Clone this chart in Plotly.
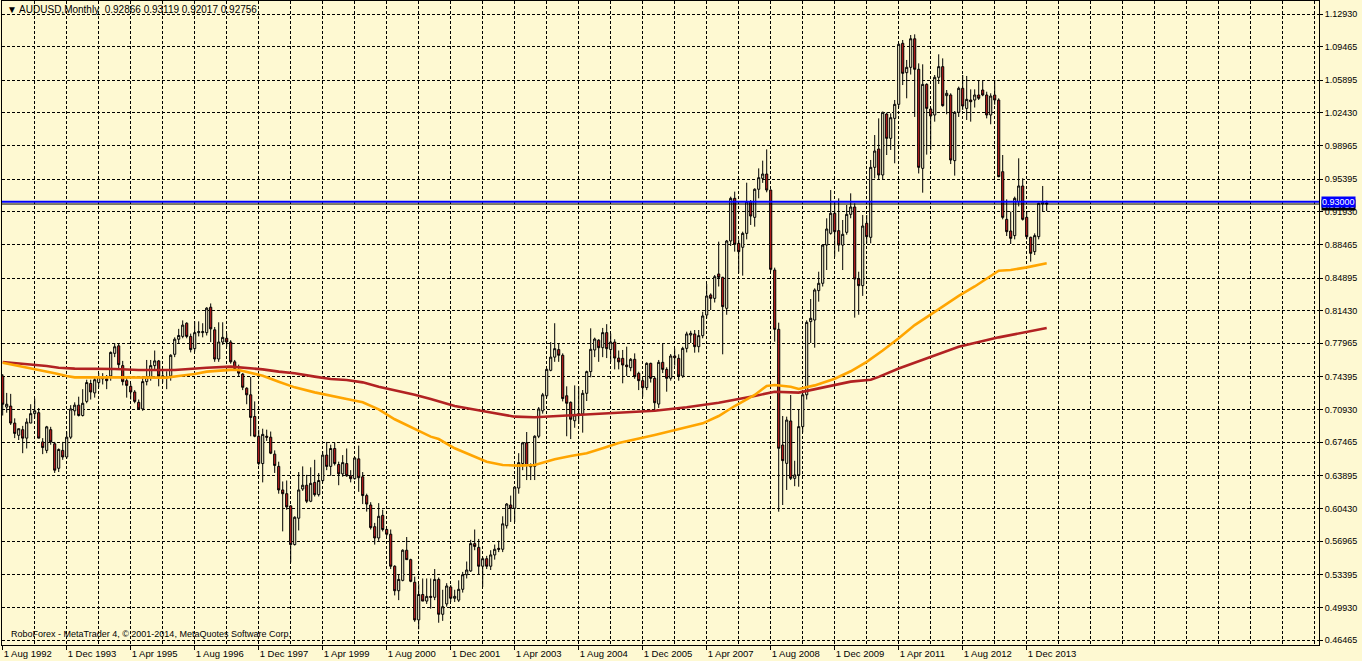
import plotly.graph_objects as go

# ---------------- data ----------------
opens = [
 .745,.712,.713,.695,.682,.688,.679,.695,.705,.706,.675,.666,.688,.673,.647,.666,.659,.680,.708,.714,
 .703,.718,.737,.727,.738,.742,.742,.745,.769,.777,.756,.740,.734,.728,.717,.710,.739,.743,.756,.761,
 .744,.744,.745,.768,.784,.787,.801,.787,.774,.791,.791,.791,.818,.794,.763,.781,.785,.781,.760,.751,
 .747,.732,.725,.702,.681,.652,.681,.680,.662,.649,.624,.620,.607,.566,.594,.625,.629,.612,.632,.619,
 .634,.661,.649,.668,.651,.641,.652,.639,.636,.657,.638,.618,.608,.585,.573,.597,.582,.577,.543,.517,
 .528,.560,.550,.526,.486,.513,.506,.511,.510,.529,.492,.503,.521,.509,.507,.5185,.534,.538,.567,.563,
 .543,.551,.543,.555,.562,.561,.586,.608,.6045,.626,.652,.674,.6498,.649,.681,.708,.724,.751,.765,.773,
 .767,.724,.717,.6975,.705,.7046,.7266,.7496,.7726,.783,.775,.791,.773,.781,.764,.7637,.7566,.7538,.7627,.7478,
 .7400,.7326,.7584,.7425,.7152,.7595,.7520,.7425,.7662,.7637,.7450,.7743,.7885,.7896,.7761,.7878,.8097,.8310,.8274,.8533,
 .8497,.8168,.8883,.9336,.8858,.8816,.8964,.9301,.9134,.9432,.9548,.9594,.9424,.8575,.7945,.6717,.6522,.6972,.6363,.6399,
 .6912,.7250,.8027,.8044,.8356,.8434,.8840,.8964,.9177,.8993,.8840,.8975,.9166,.9244,.8479,.8409,.9071,.8922,.9665,.9860,
 .9584,1.0231,.9973,1.0185,1.0334,1.0982,1.0670,1.0727,1.1030,1.0706,.9654,1.0546,1.0284,1.0221,1.0621,1.0734,1.0426,1.0433,.9736,1.0249,
 1.0504,1.0291,1.0380,1.0380,1.0433,1.0486,1.0433,1.0221,1.0433,1.0380,.9619,.9113,.8989,.8940,.9301,.9467,.9134,.8922,.8770,.8929,
 .9276,.92866]
highs = [
 .747,.727,.726,.700,.689,.692,.700,.715,.721,.711,.679,.692,.691,.675,.668,.675,.686,.714,.717,.723,
 .731,.741,.741,.743,.748,.748,.746,.771,.780,.780,.761,.744,.737,.730,.720,.743,.762,.762,.772,.762,
 .750,.750,.768,.786,.795,.804,.802,.790,.803,.803,.801,.818,.822,.797,.802,.802,.790,.783,.762,.757,
 .748,.733,.744,.718,.688,.689,.688,.686,.666,.654,.633,.634,.608,.596,.643,.649,.640,.648,.656,.642,
 .665,.675,.672,.674,.654,.661,.668,.645,.659,.671,.643,.620,.611,.589,.610,.603,.583,.582,.544,.534,
 .561,.574,.551,.532,.524,.530,.530,.530,.540,.531,.518,.525,.523,.518,.528,.537,.548,.571,.582,.572,
 .553,.554,.560,.566,.570,.596,.610,.618,.6275,.663,.675,.6855,.6522,.682,.712,.727,.753,.781,.801,.780,
 .769,.734,.718,.735,.734,.7301,.7506,.7956,.7857,.784,.796,.800,.790,.784,.772,.7726,.7761,.7640,.769,.7496,
 .7425,.7595,.7591,.7443,.7620,.7796,.7542,.7683,.7740,.7680,.7760,.7920,.7930,.7938,.7938,.8133,.8426,.8327,.8522,.8876,
 .8504,.8894,.9354,.9407,.8900,.8982,.9502,.9318,.9442,.9654,.9736,.9856,.9430,.8600,.8016,.7025,.7018,.7248,.6550,.7089,
 .7300,.8040,.8267,.8380,.8557,.8848,.9124,.9424,.9301,.9336,.9106,.9265,.9389,.9283,.8557,.9159,.9159,.9743,1.0008,1.0185,
 1.0256,1.0245,1.0238,1.0380,1.0982,1.1017,1.0805,1.1070,1.1077,1.0769,1.0759,1.0557,1.0300,1.0645,1.0865,1.0822,1.0486,1.0451,1.0263,1.0522,
 1.0645,1.0635,1.0493,1.0493,1.0585,1.0592,1.0468,1.0451,1.0592,1.0398,.9796,.9325,.9194,.9354,.9761,.9548,.9194,.8929,.8964,.9290,
 .9467,.93119]
lows = [
 .703,.706,.693,.679,.677,.663,.668,.695,.700,.679,.662,.663,.672,.642,.643,.656,.657,.678,.703,.702,
 .702,.716,.720,.722,.733,.736,.731,.740,.765,.752,.735,.722,.720,.716,.709,.708,.735,.740,.752,.734,
 .738,.731,.740,.765,.780,.785,.785,.770,.771,.787,.786,.788,.781,.760,.760,.778,.776,.758,.752,.744,
 .730,.715,.681,.680,.650,.632,.676,.662,.642,.620,.580,.603,.547,.565,.581,.623,.610,.611,.617,.617,
 .632,.645,.639,.650,.629,.638,.638,.632,.635,.622,.609,.601,.582,.566,.570,.580,.575,.540,.512,.507,
 .527,.550,.526,.484,.476,.506,.503,.498,.507,.483,.485,.500,.505,.505,.505,.515,.530,.537,.560,.534,
 .521,.540,.539,.550,.558,.558,.583,.590,.590,.620,.645,.6345,.6345,.6345,.679,.705,.722,.750,.760,.760,
 .718,.681,.678,.690,.694,.6848,.7184,.7436,.765,.760,.765,.764,.760,.752,.752,.7372,.745,.750,.742,.730,
 .7230,.7300,.7380,.7096,.7110,.7480,.7283,.7400,.7560,.7400,.7430,.7700,.7800,.7697,.7700,.7850,.8062,.8150,.8230,.8400,
 .7680,.8100,.8830,.8770,.8540,.8515,.8900,.9053,.9035,.9336,.9500,.9400,.8560,.7814,.6009,.6080,.6240,.6345,.6280,.6274,
 .6850,.7200,.7800,.7750,.8239,.8400,.8575,.8950,.8717,.8770,.8575,.8950,.9124,.8069,.8100,.8300,.8858,.8858,.9548,.9541,
 .9541,.9796,.9850,.9708,1.0300,1.0539,1.0398,1.0650,1.0200,.9600,.9396,.9800,.9850,1.0150,1.0550,1.0309,1.0228,.9700,.9577,1.0200,
 1.0274,1.0168,1.0150,1.0300,1.0380,1.0420,1.0185,1.0122,1.0330,.9560,.9113,.8936,.8851,.8900,.9250,.9100,.8900,.8664,.8734,.8900,
 .9194,.92017]
closes = [
 .715,.715,.695,.684,.689,.679,.696,.705,.708,.679,.669,.691,.675,.645,.667,.659,.680,.710,.714,.703,
 .716,.738,.728,.741,.744,.744,.740,.770,.776,.757,.739,.735,.728,.718,.710,.739,.744,.756,.761,.745,
 .745,.743,.767,.784,.788,.799,.787,.773,.791,.792,.792,.817,.795,.763,.781,.786,.781,.760,.753,.748,
 .733,.725,.701,.681,.652,.683,.680,.663,.650,.624,.620,.606,.566,.595,.624,.629,.612,.631,.619,.634,
 .661,.649,.668,.652,.641,.653,.639,.636,.658,.637,.618,.609,.584,.573,.596,.582,.577,.543,.517,.529,
 .560,.550,.527,.486,.513,.506,.511,.510,.529,.492,.500,.522,.509,.511,.5185,.534,.539,.567,.564,.543,
 .551,.543,.555,.561,.561,.588,.609,.6045,.627,.653,.674,.650,.6487,.681,.710,.725,.752,.765,.774,.767,
 .721,.716,.699,.7036,.703,.7266,.7496,.7733,.7842,.775,.791,.774,.781,.764,.760,.7566,.7549,.7627,.7443,.7400,
 .7326,.7584,.7425,.7166,.7595,.7520,.7425,.7662,.7644,.7450,.7743,.7896,.7903,.7761,.7878,.8087,.8299,.8274,.8504,.8497,
 .8186,.8883,.9336,.8848,.8770,.8964,.9301,.9148,.9432,.9555,.9594,.9424,.8582,.7945,.6682,.6551,.6982,.6363,.6399,.6912,
 .7250,.8019,.8062,.8363,.8434,.8840,.9010,.9177,.8982,.8840,.8954,.9166,.9244,.8479,.8409,.9042,.8929,.9665,.9838,.9584,
 1.0249,.9973,1.0192,1.0334,1.0971,1.0663,1.0727,1.1030,1.0706,.9665,1.0546,1.0291,1.0210,1.0621,1.0734,1.0320,1.0451,.9743,1.0249,1.0504,
 1.0316,1.0387,1.0362,1.0433,1.0398,1.0433,1.0221,1.0422,1.0380,.9566,.9134,.8982,.8911,.9336,.9467,.9113,.8929,.8752,.8940,.9283,
 .9290,.92756]

# moving averages, sampled at bar indices
ma_fast_idx = [0,4,9,13,16,18,28,37,41,44,48,51,57,59,62,65,69,73,78,82,86,90,94,98,103,107,109,113,117,121,
               125,129,133,138,142,146,150,154,163,171,175,179,183,188,191,193,197,199,203,208,212,216,220,224,228,
               233,239,243,248,249,252,256,261]
ma_fast_val = [.7591,.7556,.7520,.7478,.7450,.7435,.7435,.7428,.7432,.7450,.7471,.7496,.7515,.7513,.7485,.7453,.7389,
               .7329,.7276,.7244,.7205,.7170,.7096,.6990,.6890,.6806,.6780,.6682,.6611,.6540,.6505,.6498,.6505,.6565,
               .6600,.6629,.6682,.6738,.6823,.6901,.6947,.7025,.7131,.7248,.7344,.7354,.7336,.7312,.735,.742,.750,
               .760,.772,.785,.799,.813,.830,.840,.854,.8568,.8575,.8603,.8646]
ma_slow_idx = [0,4,8,11,14,18,28,34,43,46,51,57,65,69,73,78,82,86,90,94,98,103,107,113,121,128,133,139,146,154,
               163,171,179,188,193,199,212,217,219,224,232,239,249,261]
ma_slow_val = [.7598,.7584,.7570,.7556,.7538,.7528,.7524,.7513,.7513,.7524,.7538,.7549,.7520,.7496,.7478,.7443,.7418,
               .7407,.7382,.7336,.7301,.7250,.7205,.7131,.7071,.7018,.7011,.7025,.7039,.7060,.7081,.7117,.7166,.7237,
               .7283,.7273,.739,.741,.744,.753,.765,.776,.786,.796]

date_tick_idx = [0,16,32,48,64,80,96,112,128,144,160,176,192,208,224,240,256]
date_tick_text = ["1 Aug 1992","1 Dec 1993","1 Apr 1995","1 Aug 1996","1 Dec 1997","1 Apr 1999","1 Aug 2000",
                  "1 Dec 2001","1 Apr 2003","1 Aug 2004","1 Dec 2005","1 Apr 2007","1 Aug 2008","1 Dec 2009",
                  "1 Apr 2011","1 Aug 2012","1 Dec 2013"]
price_ticks = [1.12930,1.09465,1.05895,1.02430,0.98965,0.95395,0.91930,0.88465,0.84895,0.81430,
               0.77965,0.74395,0.70930,0.67465,0.63895,0.60430,0.56965,0.53395,0.49930,0.46465]
hline_level = 0.93000
bid_level = 0.92756
header = "\u25BC AUDUSD,Monthly  0.92866 0.93119 0.92017 0.92756"
footer = "RoboForex - MetaTrader 4, \u00A9 2001-2014, MetaQuotes Software Corp."

# ---------------- style ----------------
BG = "#FEF9D2"
RED = "#C41E1E"
FONT = "Liberation Sans"
bars = list(range(len(opens)))

fig = go.Figure()
fig.add_trace(go.Candlestick(
    x=bars, open=opens, high=highs, low=lows, close=closes,
    increasing=dict(line=dict(color="black", width=1), fillcolor=BG),
    decreasing=dict(line=dict(color="black", width=1), fillcolor=RED),
    whiskerwidth=0, hoverinfo="skip", showlegend=False))
fig.add_trace(go.Scatter(x=ma_slow_idx, y=ma_slow_val, mode="lines",
                         line=dict(color="#B22222", width=2.6), showlegend=False, hoverinfo="skip"))
fig.add_trace(go.Scatter(x=ma_fast_idx, y=ma_fast_val, mode="lines",
                         line=dict(color="#FFA500", width=2.6), showlegend=False, hoverinfo="skip"))

grid = dict(showgrid=True, gridcolor="black", gridwidth=1, griddash="3px,2px")
fig.update_layout(
    width=1362, height=661,
    margin=dict(l=2, r=43, t=1, b=16),
    paper_bgcolor=BG, plot_bgcolor=BG,
    boxgap=0.25,
    font=dict(family=FONT, size=9.5, color="black"),
    xaxis=dict(range=[-0.175, 329.075], tickmode="array", tickvals=date_tick_idx, ticktext=date_tick_text,
               ticks="outside", ticklen=4, tickcolor="black", ticklabelposition="outside right",
               showline=True, linecolor="black", linewidth=1, mirror=True, zeroline=False,
               rangeslider=dict(visible=False),
               minor=dict(tick0=0, dtick=8, showgrid=True, gridcolor="black", gridwidth=1,
                          griddash="3px,2px", ticks=""),
               tickfont=dict(family=FONT, size=9.5), **grid),
    yaxis=dict(range=[0.45937, 1.14310], side="right", tickmode="array", tickvals=price_ticks,
               ticktext=["%.5f" % v for v in price_ticks], ticks="outside", ticklen=3, tickcolor="black",
               showline=True, linecolor="black", linewidth=1, mirror=True, zeroline=False,
               tickfont=dict(family=FONT, size=9), **grid),
    shapes=[
        dict(type="line", xref="paper", x0=0, x1=1, yref="y", y0=bid_level, y1=bid_level,
             line=dict(color="black", width=1)),
        dict(type="line", xref="paper", x0=0, x1=1, yref="y", y0=hline_level, y1=hline_level,
             line=dict(color="#0000FF", width=2)),
    ],
    annotations=[
        dict(text=header, xref="paper", x=0, xanchor="left", xshift=3, yref="paper", y=1, yanchor="top",
             yshift=-1, showarrow=False, font=dict(family=FONT, size=10, color="black")),
        dict(text=footer, xref="paper", x=0, xanchor="left", xshift=7, yref="paper", y=0, yanchor="bottom",
             yshift=4, showarrow=False, font=dict(family=FONT, size=9, color="black")),
        dict(text="%.5f" % bid_level, xref="paper", x=1, xanchor="left", xshift=2, yref="y", y=bid_level - 0.0012,
             yanchor="middle", showarrow=False, bgcolor="black", borderpad=0,
             font=dict(family=FONT, size=9, color="white")),
        dict(text="%.5f" % hline_level, xref="paper", x=1, xanchor="left", xshift=2, yref="y", y=hline_level - 0.0003,
             yanchor="middle", showarrow=False, bgcolor="#0000FF", borderpad=0,
             font=dict(family=FONT, size=9, color="white")),
    ],
)

fig.write_html("out.html", config={"displayModeBar": False},
               post_script="document.body.style.margin='0';document.body.style.overflow='hidden';")
